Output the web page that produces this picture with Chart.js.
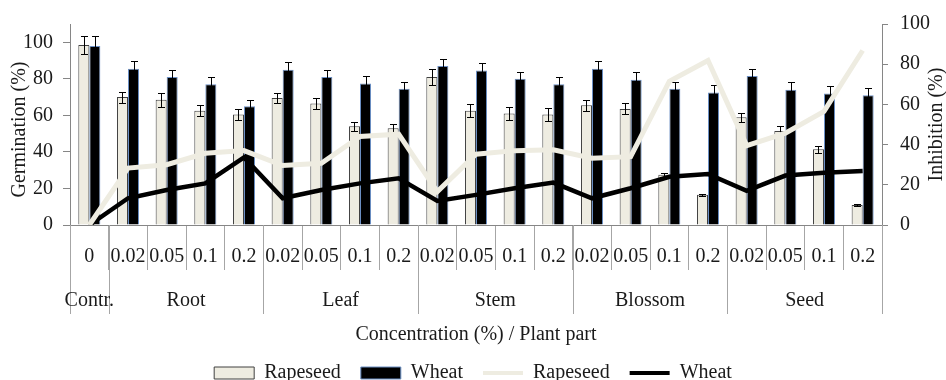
<!DOCTYPE html>
<html>
<head>
<meta charset="utf-8">
<script src="https://cdn.jsdelivr.net/npm/chart.js@4"></script>
<style>
  html, body { margin: 0; padding: 0; background: #fff; }
</style>
</head>
<body>
<canvas id="chart" width="946" height="380"></canvas>
<script>
// concentration (%) per bar group, and the plant part each block belongs to
const concentrations = ['0', '0.02', '0.05', '0.1', '0.2', '0.02', '0.05', '0.1', '0.2', '0.02', '0.05', '0.1', '0.2',
                        '0.02', '0.05', '0.1', '0.2', '0.02', '0.05', '0.1', '0.2'];
const plantParts = ['Contr.', 'Root', 'Leaf', 'Stem', 'Blossom', 'Seed'];
const partStart = [0, 1, 5, 9, 13, 17];
const partSize = [1, 4, 4, 4, 4, 4];

// germination (%) - left axis
const rapeseedGerm = [98.5, 70, 68.5, 62.5, 60.5, 69.5, 66.5, 54, 53, 81, 62.5, 61, 60.5, 65.5, 63.5, 27.5, 16.5, 59, 51.5, 41.5, 11];
const rapeseedErr  = [5, 3, 4, 3, 3, 3, 3, 2.5, 2.5, 4.5, 3.5, 3.5, 3.5, 3, 3, 1, 0.5, 2.5, 2.5, 2, 0.5];
const wheatGerm    = [98, 85.5, 81, 77, 65, 85, 81, 77.5, 74.5, 87, 84.5, 80, 77, 85.5, 79.5, 74.5, 72.5, 81.5, 74, 72, 71];
const wheatErr     = [5.5, 4, 4, 4, 3.5, 4, 4, 4, 4, 4, 4, 4, 4, 4, 4, 4, 4, 4, 4, 4, 4];

// inhibition (%) - right axis
const rapeseedInhib = [0, 28.3, 30, 35.7, 37, 29.6, 30.7, 44, 45.2, 16.6, 35.2, 37, 37.4, 33.2, 34, 71.5, 81.8, 39.5, 45.7, 56.5, 86.8];
const wheatInhib    = [0, 13.3, 17.4, 20.7, 33.6, 13.3, 17.4, 20.7, 23.2, 12, 15, 18.3, 21.1, 13.3, 18.3, 24, 25.4, 17, 24.6, 26, 26.9];

const leftTicks = [0, 20, 40, 60, 80, 100];
const rightTicks = [0, 20, 40, 60, 80, 100];

const FONT = '"Liberation Serif", "DejaVu Serif", serif';
const TXT = '#1a1a1a';
const AXIS = '#868686';
const SEP = '#a6a6a6';
const BEIGE = '#EEECE1';

// error bars, drawn right after each bar dataset so the lines stay on top
const errorBars = {
    id: 'errorBars',
    afterDatasetDraw(chart, args) {
        const ds = chart.data.datasets[args.index];
        if (!ds.errors) return;
        const ctx = chart.ctx;
        const y = chart.scales[ds.yAxisID || 'y'];
        ctx.save();
        ctx.strokeStyle = '#000';
        ctx.lineWidth = 1;
        args.meta.data.forEach((bar, i) => {
            const v = ds.data[i], e = ds.errors[i];
            const x = Math.round(bar.x) + 0.5;
            const yt = Math.round(y.getPixelForValue(v + e)) + 0.5;
            const yb = Math.round(y.getPixelForValue(v - e)) + 0.5;
            ctx.beginPath();
            ctx.moveTo(x, yt); ctx.lineTo(x, yb);
            ctx.moveTo(x - 3.5, yt); ctx.lineTo(x + 3.5, yt);
            ctx.moveTo(x - 3.5, yb); ctx.lineTo(x + 3.5, yb);
            ctx.stroke();
        });
        ctx.restore();
    }
};

// plant part row, long separators and axis titles
const decor = {
    id: 'decor',
    afterDraw(chart) {
        const {ctx, chartArea} = chart;
        const x = chart.scales.x;
        const bottom = chartArea.bottom;
        ctx.save();
        ctx.strokeStyle = SEP;
        ctx.lineWidth = 1;
        partStart.concat([concentrations.length]).forEach(i => {
            const px = Math.round(x.getPixelForValue(i - 0.5)) + 0.5;
            ctx.beginPath();
            ctx.moveTo(px, bottom);
            ctx.lineTo(px, bottom + 89);
            ctx.stroke();
        });
        ctx.fillStyle = TXT;
        ctx.font = '20px ' + FONT;
        ctx.textAlign = 'center';
        ctx.textBaseline = 'middle';
        plantParts.forEach((name, k) => {
            const mid = partStart[k] + (partSize[k] - 1) / 2;
            ctx.fillText(name, x.getPixelForValue(mid), bottom + 76);
        });
        ctx.fillText('Concentration (%) / Plant part', (chartArea.left + chartArea.right) / 2, bottom + 110);

        ctx.save();
        ctx.translate(20, (chartArea.top + chartArea.bottom) / 2 + 5);
        ctx.rotate(-Math.PI / 2);
        ctx.fillText('Germination (%)', 0, 0);
        ctx.restore();

        ctx.save();
        ctx.translate(937, (chartArea.top + chartArea.bottom) / 2);
        ctx.rotate(-Math.PI / 2);
        ctx.fillText('Inhibition (%)', 0, 0);
        ctx.restore();
        ctx.restore();
    }
};

new Chart(document.getElementById('chart'), {
    data: {
        labels: concentrations,
        datasets: [
            {type: 'bar', label: 'Rapeseed', data: rapeseedGerm, errors: rapeseedErr, yAxisID: 'y',
             backgroundColor: BEIGE, borderColor: '#404040', borderWidth: 1, order: 2},
            {type: 'bar', label: 'Wheat', data: wheatGerm, errors: wheatErr, yAxisID: 'y',
             backgroundColor: '#000', borderColor: '#6b8fc4', borderWidth: 1, order: 2},
            {type: 'line', label: 'Rapeseed', data: rapeseedInhib, yAxisID: 'y1',
             borderColor: BEIGE, backgroundColor: BEIGE, borderWidth: 5, pointRadius: 0, tension: 0, order: 1},
            {type: 'line', label: 'Wheat', data: wheatInhib, yAxisID: 'y1',
             borderColor: '#000', backgroundColor: '#000', borderWidth: 4.5, pointRadius: 0, tension: 0, order: 1}
        ]
    },
    options: {
        responsive: false,
        animation: false,
        devicePixelRatio: 1,
        layout: {padding: {top: 23, bottom: -13, left: 0, right: 0}},
        datasets: {bar: {categoryPercentage: 0.57, barPercentage: 1}},
        plugins: {
            tooltip: {enabled: false},
            legend: {
                position: 'bottom',
                labels: {
                    usePointStyle: true,
                    pointStyleWidth: 40,
                    boxHeight: 12,
                    padding: 20,
                    color: TXT,
                    font: {family: FONT, size: 20, lineHeight: 1},
                    sort: (a, b) => a.datasetIndex - b.datasetIndex,
                    generateLabels: chart => chart.data.datasets.map((ds, i) => ({
                        text: ds.label,
                        datasetIndex: i,
                        fillStyle: ds.backgroundColor,
                        strokeStyle: ds.borderColor,
                        lineWidth: ds.type === 'line' ? 4 : 1,
                        pointStyle: ds.type === 'line' ? 'line' : 'rect',
                        fontColor: TXT,
                        hidden: false
                    }))
                }
            }
        },
        scales: {
            x: {
                position: 'bottom',
                grid: {offset: true, drawOnChartArea: false, drawTicks: true, tickLength: 45, color: SEP},
                border: {color: AXIS},
                ticks: {color: TXT, font: {family: FONT, size: 20}, padding: -25, maxRotation: 0, autoSkip: false},
                afterFit: s => { s.height = 118; }
            },
            y: {
                position: 'left',
                min: 0, max: 110,
                grid: {drawOnChartArea: false, tickLength: 7, color: AXIS},
                border: {color: AXIS},
                ticks: {stepSize: 20, color: TXT, font: {family: FONT, size: 20}, padding: 10},
                afterBuildTicks: s => { s.ticks = leftTicks.map(v => ({value: v})); },
                afterFit: s => { s.width = 70; }
            },
            y1: {
                position: 'right',
                min: 0, max: 100,
                grid: {drawOnChartArea: false, tickLength: 6, color: AXIS},
                border: {color: AXIS},
                ticks: {stepSize: 20, color: TXT, font: {family: FONT, size: 20}, padding: 12},
                afterBuildTicks: s => { s.ticks = rightTicks.map(v => ({value: v})); },
                afterFit: s => { s.width = 64; }
            }
        }
    },
    plugins: [errorBars, decor]
});
</script>
</body>
</html>
